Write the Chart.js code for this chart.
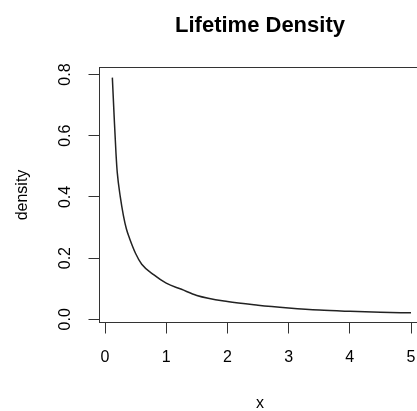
<!DOCTYPE html>
<html>
<head>
<meta charset="utf-8">
<script src="https://cdn.jsdelivr.net/npm/chart.js@4/dist/chart.umd.min.js"></script>
<style>
  html, body { margin: 0; padding: 0; background: #fff; overflow: hidden; }
  canvas { display: block; }
</style>
</head>
<body>
<canvas id="densityChart" width="417" height="411"></canvas>
<script>
// values
const xValues = [0.12, 0.15, 0.18, 0.2, 0.25, 0.3, 0.35, 0.4, 0.5, 0.6, 0.8, 1.0, 1.25, 1.5, 2.0, 2.5, 3.0, 3.5, 4.0, 4.5, 5.0];
const densityValues = [0.79, 0.66, 0.54, 0.48, 0.40, 0.34, 0.295, 0.265, 0.215, 0.18, 0.145, 0.118, 0.098, 0.078, 0.058, 0.046, 0.037, 0.030, 0.026, 0.023, 0.021];
const xTicks = [0, 1, 2, 3, 4, 5];
const yTicks = [0, 0.2, 0.4, 0.6, 0.8];

const FONT = "'Liberation Sans', Arial, sans-serif";

const points = xValues.map((x, i) => ({ x: x, y: densityValues[i] }));

// title, axis labels, y tick labels (rotated like R) and the top of the box
const rPlotText = {
    id: 'rPlotText',
    afterDraw(chart) {
        const ctx = chart.ctx;
        const area = chart.chartArea;
        const yScale = chart.scales.y;
        // R's plot region runs a few pixels past the right edge of the picture
        const cx = 260;
        const cy = (area.top + area.bottom) / 2;
        ctx.save();
        ctx.fillStyle = '#000';

        ctx.font = 'bold 22px ' + FONT;
        ctx.textAlign = 'center';
        ctx.textBaseline = 'alphabetic';
        ctx.fillText('Lifetime Density', cx, 31.5);

        ctx.font = '16px ' + FONT;
        ctx.fillText('x', cx, 408);

        ctx.textBaseline = 'middle';
        ctx.save();
        ctx.translate(22.5, cy);
        ctx.rotate(-Math.PI / 2);
        ctx.fillText('density', 0, 0);
        ctx.restore();

        yScale.ticks.forEach(t => {
            const py = yScale.getPixelForValue(t.value);
            ctx.save();
            ctx.translate(66, py);
            ctx.rotate(-Math.PI / 2);
            ctx.fillText(t.value.toFixed(1), 0, 0);
            ctx.restore();
        });

        ctx.strokeStyle = '#333';
        ctx.lineWidth = 1;
        ctx.beginPath();
        ctx.moveTo(area.left, area.top);
        ctx.lineTo(chart.width, area.top);
        ctx.stroke();
        ctx.restore();
    }
};

const noPad = s => { s.paddingLeft = 0; s.paddingRight = 0; s.paddingTop = 0; s.paddingBottom = 0; };

const config = {
    type: 'line',
    data: {
        datasets: [{
            label: 'density',
            data: points,
            borderColor: '#222',
            borderWidth: 1.5,
            pointRadius: 0,
            fill: false,
            cubicInterpolationMode: 'monotone'
        }]
    },
    options: {
        responsive: false,
        animation: false,
        devicePixelRatio: 1,
        layout: { padding: { top: 67.5, left: 0, right: 0, bottom: 0 } },
        plugins: {
            legend: { display: false },
            title: { display: false },
            tooltip: { enabled: false }
        },
        scales: {
            x: {
                type: 'linear',
                min: -0.09,
                max: 5.098,
                afterBuildTicks: s => { s.ticks = xTicks.map(v => ({ value: v })); },
                afterFit: s => { s.height = 88.5; noPad(s); },
                grid: { drawOnChartArea: false, drawTicks: true, tickLength: 11, tickColor: '#333' },
                border: { display: true, color: '#333' },
                ticks: {
                    color: '#000',
                    padding: 14.4,
                    maxRotation: 0,
                    font: { family: FONT, size: 16 },
                    callback: v => String(v)
                }
            },
            y: {
                min: -0.0105,
                max: 0.823,
                afterBuildTicks: s => { s.ticks = yTicks.map(v => ({ value: v })); },
                afterFit: s => { s.width = 99.5; noPad(s); },
                grid: { drawOnChartArea: false, drawTicks: true, tickLength: 11, tickColor: '#333' },
                border: { display: true, color: '#333' },
                ticks: { display: false }
            }
        }
    },
    plugins: [rPlotText]
};

const ctx = document.getElementById('densityChart').getContext('2d');
new Chart(ctx, config);
</script>
</body>
</html>
